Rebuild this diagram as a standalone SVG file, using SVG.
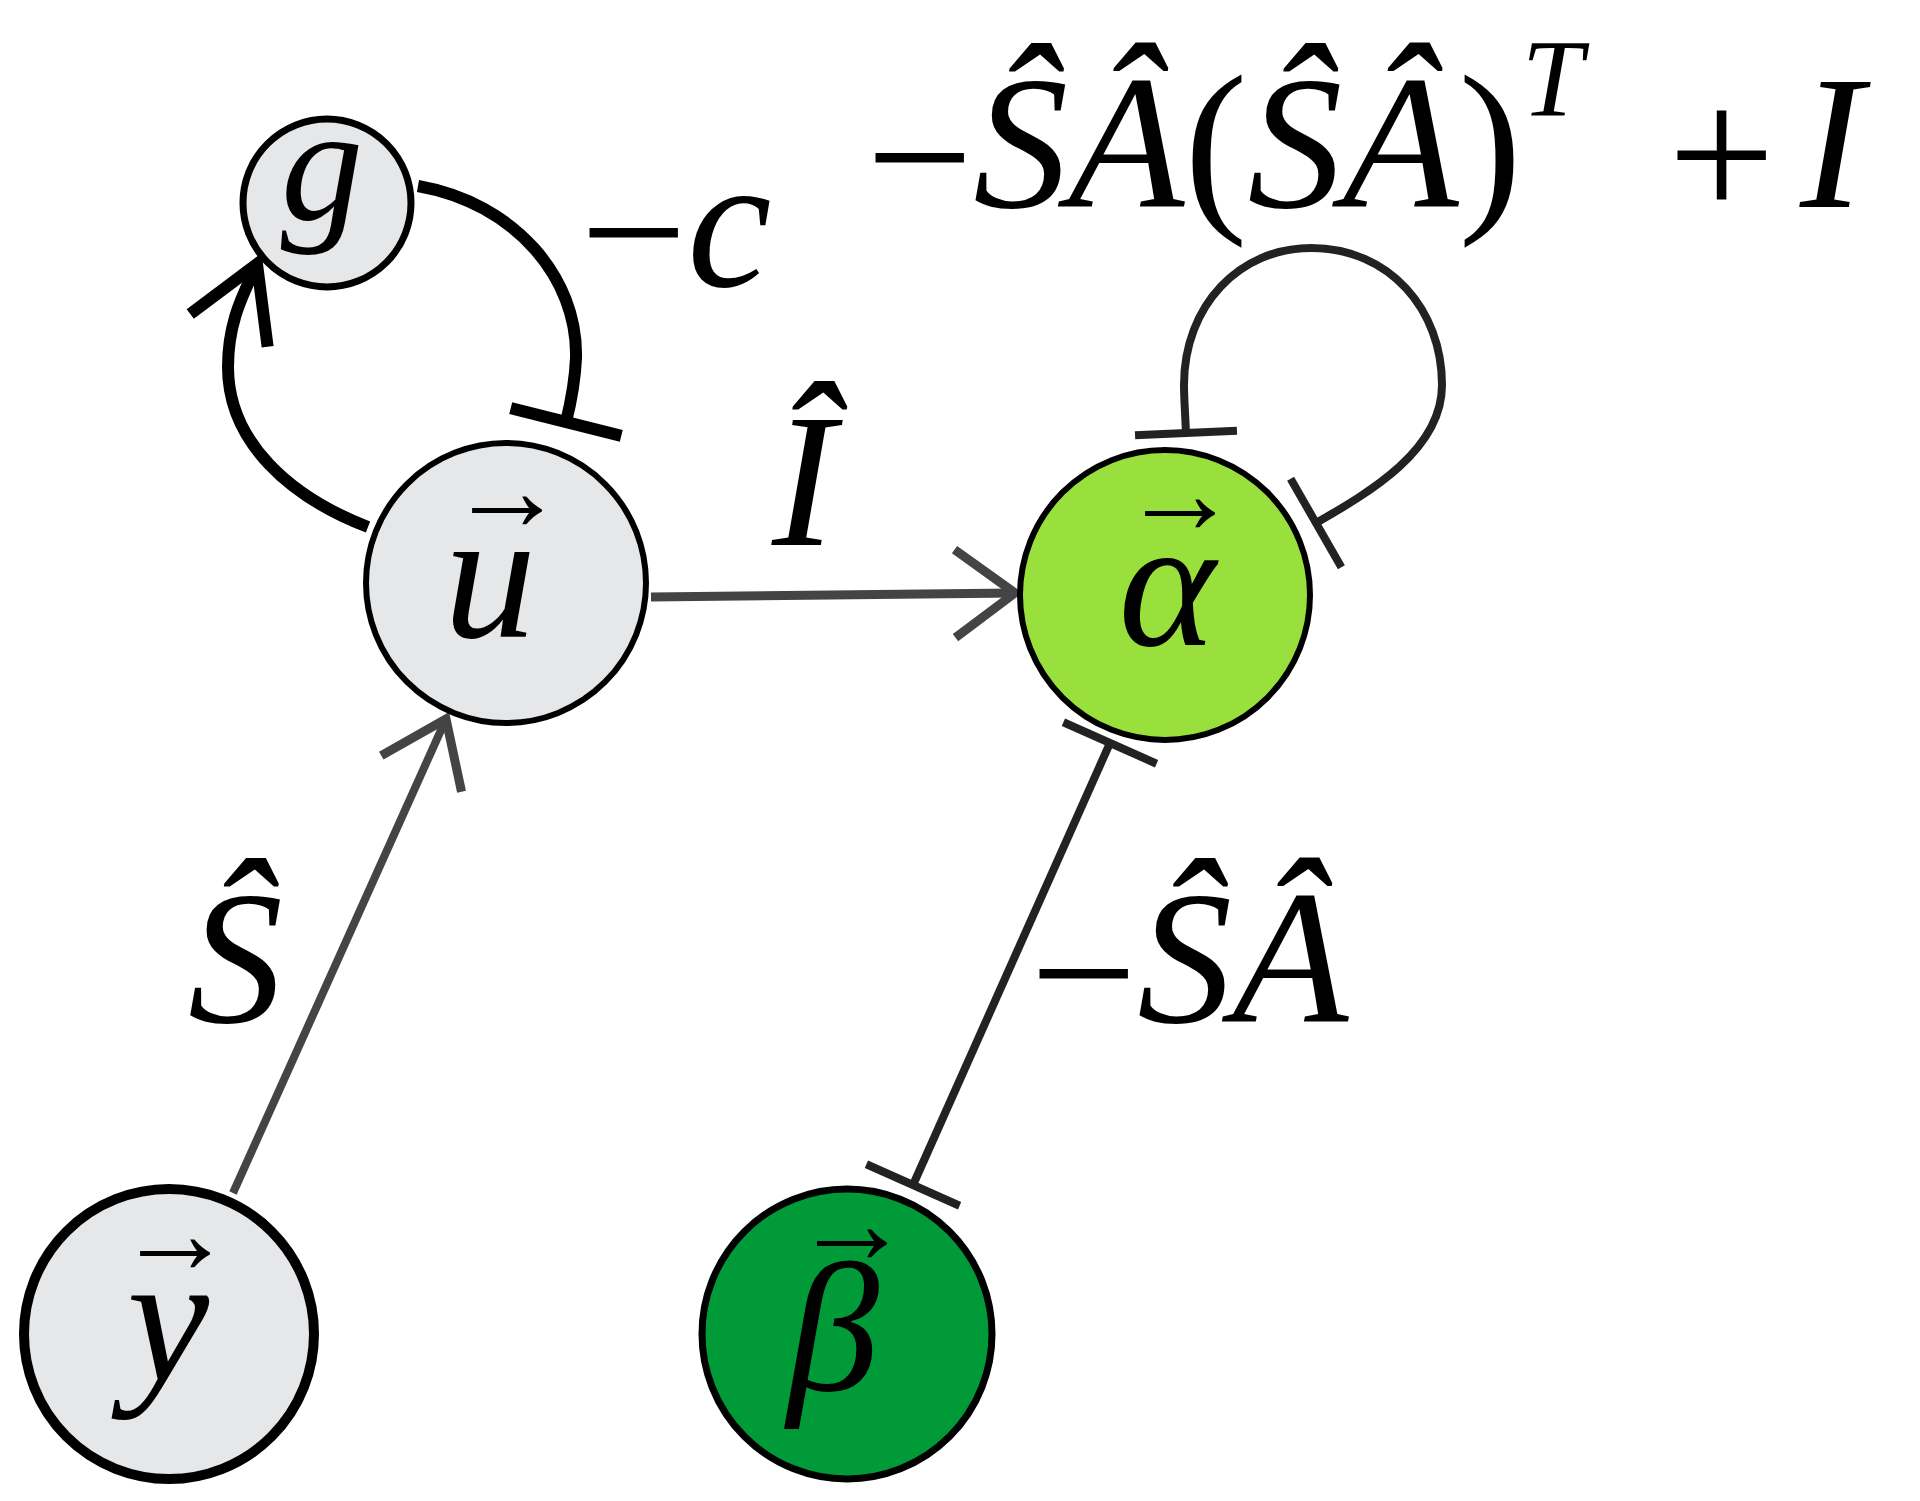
<svg xmlns="http://www.w3.org/2000/svg" width="1920" height="1501" viewBox="0 0 1920 1501">
<defs>
<style>
.node{stroke:#000;}
.grey{fill:#e6e7e9;}
.lime{fill:#99e03c;}
.green{fill:#009b38;}
.conn{fill:none;}
</style>
<marker id="arrGrey" markerUnits="userSpaceOnUse" orient="auto" overflow="visible" markerWidth="10" markerHeight="10" refX="0" refY="0">
<path d="M-60,-44 L0,0 L-60,44" fill="none" stroke="#444" stroke-width="9"/>
</marker>
<marker id="arrBlack" markerUnits="userSpaceOnUse" orient="auto" overflow="visible" markerWidth="10" markerHeight="10" refX="0" refY="0">
<path d="M-72,-42 L0,0 L-72,42" fill="none" stroke="#000" stroke-width="12"/>
</marker>
<marker id="barBlack" markerUnits="userSpaceOnUse" orient="auto" overflow="visible" markerWidth="10" markerHeight="10" refX="0" refY="0">
<path d="M0,-57 L0,57" stroke="#000" stroke-width="12"/>
</marker>
<marker id="barDark" markerUnits="userSpaceOnUse" orient="auto" overflow="visible" markerWidth="10" markerHeight="10" refX="0" refY="0">
<path d="M0,-51 L0,51" stroke="#222" stroke-width="8"/>
</marker>
</defs>
<rect width="1920" height="1501" fill="#fff"/>

<g id="connectors">
<path id="e-u-g" class="conn" d="M368,527 C290,497 228,442 228,367 C228,318 246,290 257,264" stroke="#000" stroke-width="12" marker-end="url(#arrBlack)"/>
<path id="e-g-u" class="conn" d="M418,186 C515,203 578,278 576,358 C575,382 571,402 566,422" stroke="#000" stroke-width="12" marker-end="url(#barBlack)"/>
<path id="e-u-alpha" class="conn" d="M651,597 L1015,593" stroke="#444" stroke-width="9" marker-end="url(#arrGrey)"/>
<path id="e-y-u" class="conn" d="M233,1193 L446,719" stroke="#444" stroke-width="8" marker-end="url(#arrGrey)"/>
<path id="e-alpha-self" class="conn" d="M1186,433 C1185,410 1184,398 1184,385 C1184,305 1240,248 1311,248 C1390,248 1442,310 1442,385 C1442,450 1370,492 1316,523" stroke="#222" stroke-width="8" marker-start="url(#barDark)" marker-end="url(#barDark)"/>
<path id="e-alpha-beta" class="conn" d="M1110,743 L913,1185" stroke="#222" stroke-width="8" marker-start="url(#barDark)" marker-end="url(#barDark)"/>
</g>

<g font-family="Liberation Serif, serif" fill="#000">
<g id="node-g">
<circle class="node grey" cx="327" cy="203" r="84" stroke-width="7"/>
<text font-style="italic" x="322" y="220" font-size="165" text-anchor="middle">g</text>
</g>
<g id="node-u">
<circle class="node grey" cx="506" cy="583" r="140" stroke-width="6"/>
<text x="507" y="530" font-size="118" text-anchor="middle">→</text>
<text font-style="italic" x="490" y="637" font-size="185" text-anchor="middle">u</text>
</g>
<g id="node-alpha">
<circle class="node lime" cx="1165" cy="595" r="145" stroke-width="6"/>
<text x="1180" y="533" font-size="118" text-anchor="middle">→</text>
<text font-style="italic" x="1167" y="645" font-size="185" text-anchor="middle">α</text>
</g>
<g id="node-y">
<circle class="node grey" cx="169" cy="1334" r="145" stroke-width="10"/>
<text x="175" y="1273" font-size="118" text-anchor="middle">→</text>
<text font-style="italic" x="168" y="1380" font-size="185" text-anchor="middle">y</text>
</g>
<g id="node-beta">
<circle class="node green" cx="847" cy="1334" r="145" stroke-width="7"/>
<text x="852" y="1263" font-size="118" text-anchor="middle">→</text>
<text font-style="italic" x="833" y="1390" font-size="185" text-anchor="middle">β</text>
</g>

<g id="labels" font-size="190">
<text x="580" y="286"><tspan dy="10">−</tspan><tspan font-style="italic" dy="-10">c</tspan></text>
<text font-style="italic" x="772" y="545">Î</text>
<text font-style="italic" x="188" y="1022">Ŝ</text>
<text x="1030" y="1022"><tspan dy="15">−</tspan><tspan font-style="italic" dy="-15">ŜÂ</tspan></text>
<text x="866" y="207"><tspan dy="14">−</tspan><tspan font-style="italic" dy="-14">ŜÂ</tspan>(<tspan font-style="italic">ŜÂ</tspan>)<tspan font-style="italic" font-size="110" dy="-91">T</tspan><tspan x="1668" dy="103">+</tspan><tspan font-style="italic" x="1800" dy="-12">I</tspan></text>
</g>
</g>
</svg>
